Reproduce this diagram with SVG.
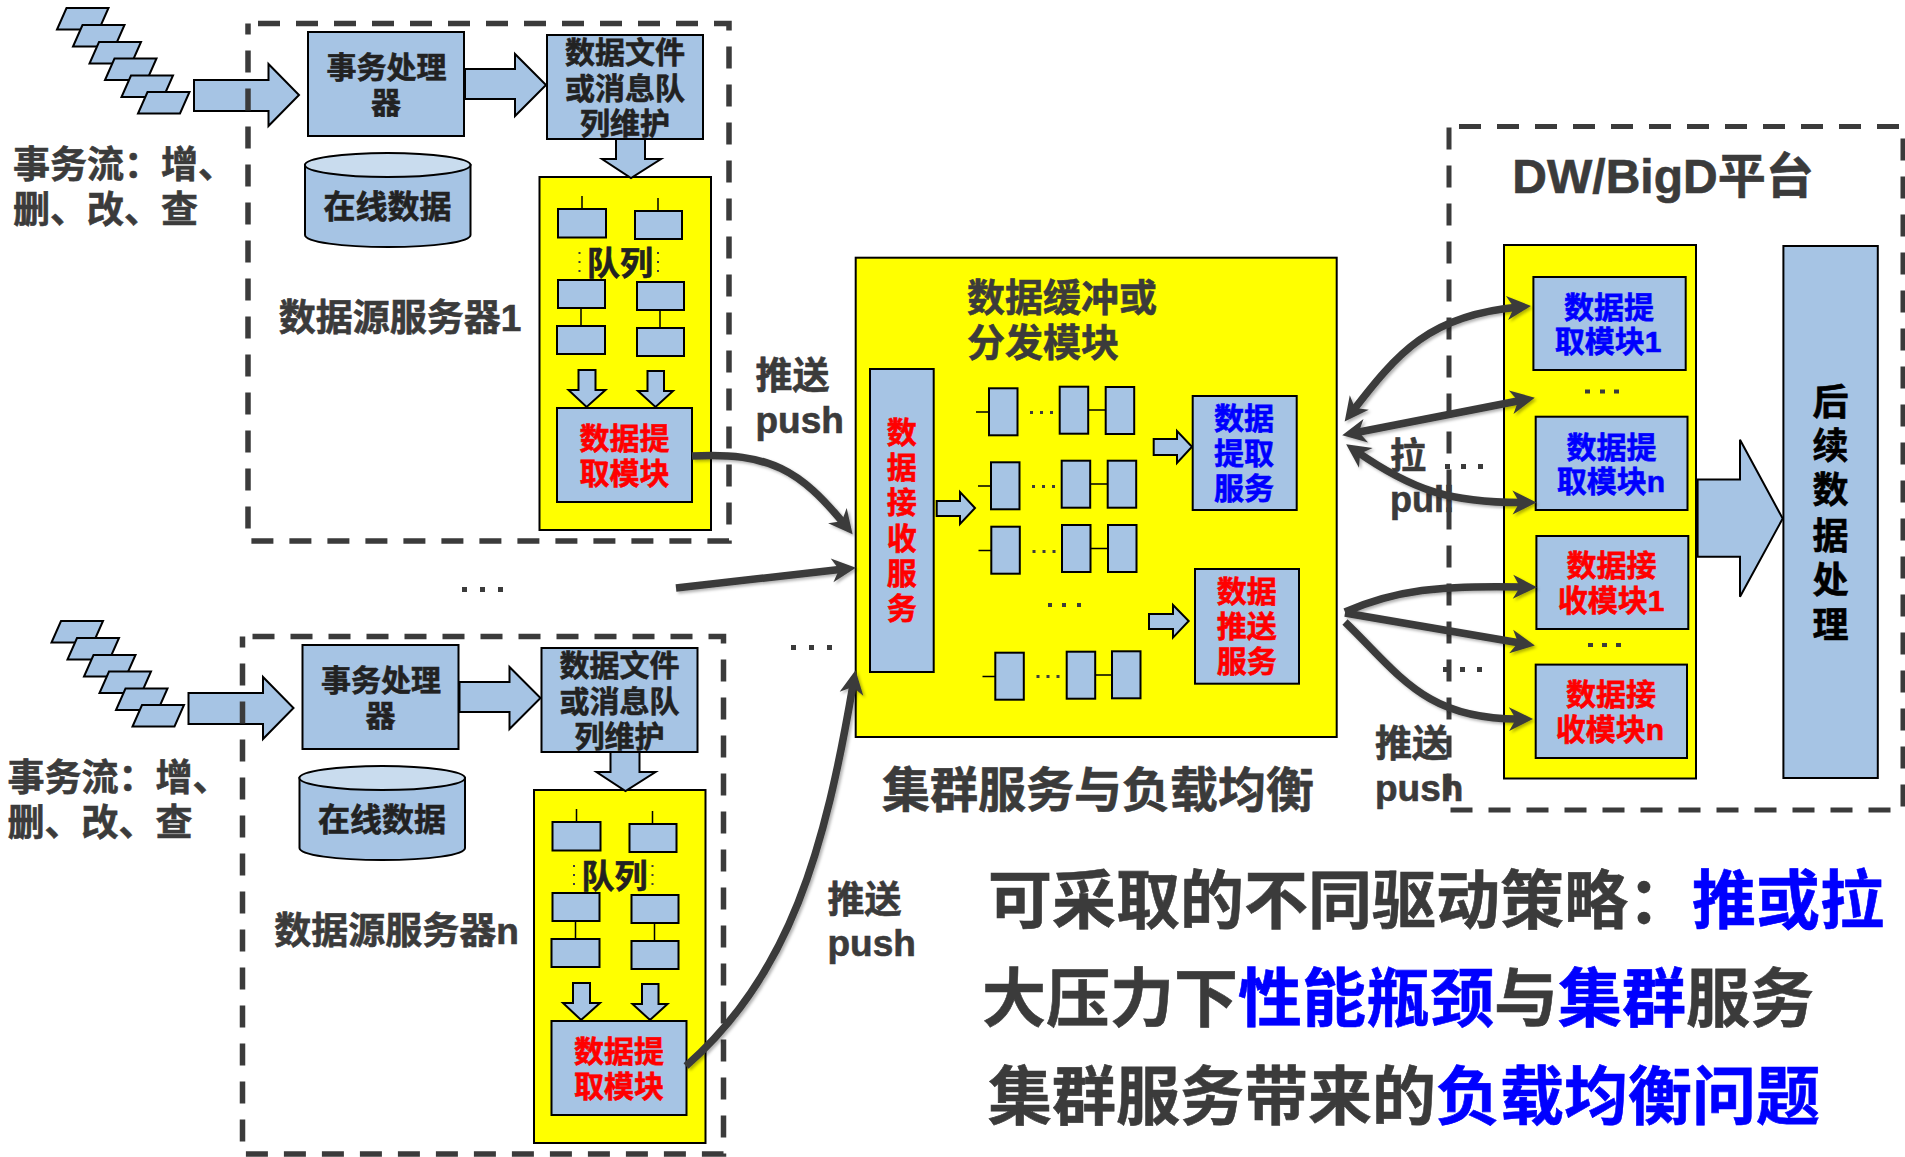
<svg xmlns="http://www.w3.org/2000/svg" width="1905" height="1157" viewBox="0 0 1905 1157">
<style>
text{font-family:"Liberation Sans","Noto Sans CJK SC",sans-serif;font-weight:700;text-anchor:middle;fill:#3b3b3b;stroke:#3b3b3b;stroke-width:.6}
.s{text-anchor:start}
.k{fill:#000;stroke:#000}.r{fill:#f00;stroke:#f00}.b{fill:#00f;stroke:#00f}.d{fill:#222;stroke:#222}
.f30{font-size:30px}.f32{font-size:32px}.f33{font-size:33px}.f36{font-size:36px}.f37{font-size:37px}.f38{font-size:38px}.f48{font-size:48px}.f64{font-size:64px}
.n,.a{fill:#a6c4e4;stroke:#000;stroke-width:2}
.a{stroke-width:2}
.y{fill:#ff0;stroke:#000;stroke-width:2}
.top{fill:#c9dcee;stroke:#000;stroke-width:2}
.w{fill:none;stroke:#000;stroke-width:1.5}
.frame{fill:none;stroke:#3b3b3b;stroke-width:5.5;stroke-dasharray:22 16}
.c{fill:none;stroke:#3b3b3b;stroke-width:7.5}
.dg{fill:#3b3b3b}
</style>
<defs>
<marker id="h" markerUnits="userSpaceOnUse" markerWidth="26" markerHeight="26" viewBox="0 0 26 26" refX="13" refY="13" orient="auto-start-reverse">
<path d="M25 13L1 1L8 13L1 25Z" fill="#3b3b3b"/>
</marker>
<filter id="sh" x="-10%" y="-10%" width="120%" height="120%"><feDropShadow dx="2" dy="2" stdDeviation="1.5" flood-color="#000" flood-opacity=".3"/></filter>
<g id="para"><path class="n" d="M9.5 0H51.5L42 21.500H0Z"/></g>
<g id="q2"><rect class="n" x="0" y="0" width="28.500" height="47"/></g>
</defs>

<g id="server-1">
<g id="stream-1"><use href="#para" x="57" y="8"/><use href="#para" x="73" y="25"/><use href="#para" x="89.500" y="42"/><use href="#para" x="105" y="58.500"/><use href="#para" x="121.500" y="75.500"/><use href="#para" x="138" y="92"/></g>
<g id="stream-arrow-1"><path class="a" d="M194 80H268.500V64L299 95L268.500 126V111H194Z"/></g>
<g id="frame-1"><path class="frame" d="M258 23.600H729V541H248V23.600"/></g>
<g id="proc-1"><rect class="n" x="308" y="32" width="156" height="104"/><text class="f30 d" x="386.500" y="78">事务处理</text><text class="f30 d" x="386" y="113">器</text></g>
<g id="arrow-proc-file-1"><path class="a" d="M465 69H515V54L546 85L515 116V99H465Z"/></g>
<g id="file-1"><rect class="n" x="547" y="35" width="156" height="104"/><text class="f30 d" x="625" y="63">数据文件</text><text class="f30 d" x="625" y="99">或消息队</text><text class="f30 d" x="625" y="134">列维护</text></g>
<g id="yellow-1"><rect class="y" x="539.500" y="177" width="171.500" height="353"/></g>
<g id="arrow-file-queue-1"><path class="a" d="M616 139H645V159H661L631 178L602 159H616Z"/></g>
<g id="db-1"><path class="n" d="M305 165V235C305 242 342 247 388 247S470.500 242 470.500 235V165Z"/><ellipse class="top" cx="387.700" cy="165" rx="82.800" ry="12"/><text class="f32 d" x="387.500" y="218">在线数据</text></g>
<text id="label-server-1" class="f37" x="400" y="331">数据源服务器1</text>
<g id="queues-1">
<path class="w" d="M582 196V209M658 198V211M581 308V326M660 310V328"/>
<rect class="n" x="558" y="209" width="48" height="28.500"/><rect class="n" x="635" y="211" width="47" height="28"/>
<rect class="n" x="558" y="280" width="47" height="28"/><rect class="n" x="637" y="282" width="47" height="28"/>
<rect class="n" x="557" y="326" width="48" height="28"/><rect class="n" x="637" y="328" width="47" height="28"/>
<text class="f33 d" x="620" y="275">队列</text>
<path class="dg" d="M578.500 252h2v2h-2zM578.500 261h2v2h-2zM578.500 270h2v2h-2zM657 252h2v2h-2zM657 261h2v2h-2zM657 270h2v2h-2z"/>
</g>
<g id="arrows-queue-1"><path class="a" d="M578.500 370H595.500V390H605.500L586.600 407L568.500 390H578.500Z"/><path class="a" d="M647.500 371H664V391H673L655.500 407L638 391H647.500Z"/></g>
<g id="extract-1"><rect class="n" x="557" y="408" width="135" height="94"/><text class="f30 r" x="624.500" y="449">数据提</text><text class="f30 r" x="624.500" y="484">取模块</text></g>
<text id="label-stream-1a" class="f37 s" x="13" y="178">事务流：增、</text>
<text id="label-stream-1b" class="f37 s" x="13" y="223">删、改、查</text>
</g>

<g id="server-n" transform="translate(-5.500 613)">
<g id="stream-n"><use href="#para" x="57" y="8"/><use href="#para" x="73" y="25"/><use href="#para" x="89.500" y="42"/><use href="#para" x="105" y="58.500"/><use href="#para" x="121.500" y="75.500"/><use href="#para" x="138" y="92"/></g>
<g id="stream-arrow-n"><path class="a" d="M194 80H268.500V64L299 95L268.500 126V111H194Z"/></g>
<g id="frame-n"><path class="frame" d="M258 23.600H729V541H248V23.600"/></g>
<g id="proc-n"><rect class="n" x="308" y="32" width="156" height="104"/><text class="f30 d" x="386.500" y="78">事务处理</text><text class="f30 d" x="386" y="113">器</text></g>
<g id="arrow-proc-file-n"><path class="a" d="M465 69H515V54L546 85L515 116V99H465Z"/></g>
<g id="file-n"><rect class="n" x="547" y="35" width="156" height="104"/><text class="f30 d" x="625" y="63">数据文件</text><text class="f30 d" x="625" y="99">或消息队</text><text class="f30 d" x="625" y="134">列维护</text></g>
<g id="yellow-n"><rect class="y" x="539.500" y="177" width="171.500" height="353"/></g>
<g id="arrow-file-queue-n"><path class="a" d="M616 139H645V159H661L631 178L602 159H616Z"/></g>
<g id="db-n"><path class="n" d="M305 165V235C305 242 342 247 388 247S470.500 242 470.500 235V165Z"/><ellipse class="top" cx="387.700" cy="165" rx="82.800" ry="12"/><text class="f32 d" x="387.500" y="218">在线数据</text></g>
<text id="label-server-n" class="f37" x="402" y="331">数据源服务器n</text>
<g id="queues-n">
<path class="w" d="M582 196V209M658 198V211M581 308V326M660 310V328"/>
<rect class="n" x="558" y="209" width="48" height="28.500"/><rect class="n" x="635" y="211" width="47" height="28"/>
<rect class="n" x="558" y="280" width="47" height="28"/><rect class="n" x="637" y="282" width="47" height="28"/>
<rect class="n" x="557" y="326" width="48" height="28"/><rect class="n" x="637" y="328" width="47" height="28"/>
<text class="f33 d" x="620" y="275">队列</text>
<path class="dg" d="M578.500 252h2v2h-2zM578.500 261h2v2h-2zM578.500 270h2v2h-2zM657 252h2v2h-2zM657 261h2v2h-2zM657 270h2v2h-2z"/>
</g>
<g id="arrows-queue-n"><path class="a" d="M578.500 370H595.500V390H605.500L586.600 407L568.500 390H578.500Z"/><path class="a" d="M647.500 371H664V391H673L655.500 407L638 391H647.500Z"/></g>
<g id="extract-n"><rect class="n" x="557" y="408" width="135" height="94"/><text class="f30 r" x="624.500" y="449">数据提</text><text class="f30 r" x="624.500" y="484">取模块</text></g>
<text id="label-stream-na" class="f37 s" x="13" y="178">事务流：增、</text>
<text id="label-stream-nb" class="f37 s" x="13" y="223">删、改、查</text>
</g>

<g id="dots-left" class="dg"><rect x="462" y="587" width="5" height="5"/><rect x="480" y="587" width="5" height="5"/><rect x="498" y="587" width="5" height="5"/><rect x="791" y="645" width="5" height="5"/><rect x="809" y="645" width="5" height="5"/><rect x="827" y="645" width="5" height="5"/></g>
<g id="label-push-1"><text class="f37 s" x="755.500" y="389">推送</text><text class="f37 s" x="755.500" y="433">push</text></g>
<g id="label-push-n"><text class="f37 s" x="827.500" y="913">推送</text><text class="f37 s" x="827.500" y="956">push</text></g>

<g id="buffer">
<rect class="y" x="855.700" y="257.700" width="481" height="479.300"/>
<text class="f38 s" x="967" y="311">数据缓冲或</text><text class="f38 s" x="967" y="356">分发模块</text>
</g>
<g id="receive-service"><rect class="n" x="870" y="369" width="63.700" height="303"/><text class="f30 r" x="901.700" y="443">数</text><text class="f30 r" x="901.700" y="478">据</text><text class="f30 r" x="901.700" y="513">接</text><text class="f30 r" x="901.700" y="549">收</text><text class="f30 r" x="901.700" y="584">服</text><text class="f30 r" x="901.700" y="619">务</text></g>
<g id="arrow-receive-queues"><path class="a" d="M936.700 501H960V492L975 508L960 524V516H936.700Z"/></g>
<g id="buffer-queues">
<path class="w" d="M976 412H989M1088 410H1106M978 486H991M1090 484H1108M978.500 550.500H991.500M1090.500 548.500H1108.500M982.500 676.500H995.500M1094.500 675H1112.500"/>
<use href="#q2" x="989" y="388.300"/><use href="#q2" x="1059.700" y="386.700"/><use href="#q2" x="1105.700" y="387"/>
<use href="#q2" x="991" y="462.300"/><use href="#q2" x="1061.700" y="460.700"/><use href="#q2" x="1107.700" y="460.700"/>
<use href="#q2" x="991.300" y="526.700"/><use href="#q2" x="1062" y="525"/><use href="#q2" x="1108" y="525"/>
<use href="#q2" x="995.300" y="652.700"/><use href="#q2" x="1066.700" y="651.700"/><use href="#q2" x="1112" y="651.300"/>
<path class="dg" d="M1030 411h3v3h-3zM1040 411h3v3h-3zM1050 411h3v3h-3zM1032 485h3v3h-3zM1042 485h3v3h-3zM1052 485h3v3h-3zM1032.500 550h3v3h-3zM1042.500 550h3v3h-3zM1052.500 550h3v3h-3zM1036.500 675h3v3h-3zM1046.500 675h3v3h-3zM1056.500 675h3v3h-3z"/>
<path class="dg" d="M1048 603h4v4h-4zM1062 603h4v4h-4zM1077 603h4v4h-4z"/>
</g>
<g id="arrows-to-services"><path class="a" d="M1153.700 439H1177V431L1192 446.700L1177 463V455H1153.700Z"/><path class="a" d="M1149 614H1173V605L1188.700 621L1173 637.600V629H1149Z"/></g>
<g id="extract-service"><rect class="n" x="1192.700" y="396" width="104" height="114"/><text class="f30 b" x="1244" y="429">数据</text><text class="f30 b" x="1244" y="464">提取</text><text class="f30 b" x="1244" y="499">服务</text></g>
<g id="push-service"><rect class="n" x="1195" y="569" width="104" height="114.700"/><text class="f30 r" x="1246.700" y="602">数据</text><text class="f30 r" x="1246.700" y="637">推送</text><text class="f30 r" x="1246.700" y="672">服务</text></g>
<text id="label-cluster" class="f48" x="1098" y="807">集群服务与负载均衡</text>

<text id="label-pull-a" class="f36 s" x="1390" y="469">拉</text>
<text id="label-pull-b" class="f36 s" x="1390" y="512">pull</text>
<g id="dots-mid" class="dg"><rect x="1445" y="464" width="5" height="5"/><rect x="1461" y="464" width="5" height="5"/><rect x="1478" y="464" width="5" height="5"/><rect x="1443" y="667" width="5" height="5"/><rect x="1460" y="667" width="5" height="5"/><rect x="1477" y="667" width="5" height="5"/></g>
<text id="label-push-2a" class="f37 s" x="1375" y="757">推送</text>
<text id="label-push-2b" class="f37 s" x="1375" y="801">push</text>

<g id="frame-platform"><path class="frame" style="stroke-width:5" d="M1459 126.500H1903V810H1449V126.500"/></g>
<text id="label-platform" class="f48" x="1663" y="193">DW/BigD平台</text>
<g id="platform-yellow"><rect class="y" x="1504" y="245" width="192" height="533.500"/></g>
<g id="pull-1"><rect class="n" x="1533.400" y="277" width="152.300" height="93"/><text class="f30 b" x="1609" y="318">数据提</text><text class="f30 b" x="1608" y="352">取模块1</text></g>
<g id="pull-n"><rect class="n" x="1535.700" y="416.700" width="151.800" height="93.300"/><text class="f30 b" x="1611.500" y="458">数据提</text><text class="f30 b" x="1611" y="492">取模块n</text></g>
<g id="recv-1"><rect class="n" x="1536.400" y="536" width="151.900" height="93"/><text class="f30 r" x="1611.500" y="576">数据接</text><text class="f30 r" x="1611" y="611">收模块1</text></g>
<g id="recv-n"><rect class="n" x="1535.700" y="664.600" width="151.300" height="93.400"/><text class="f30 r" x="1611" y="705">数据接</text><text class="f30 r" x="1610" y="740">收模块n</text></g>
<g id="dots-platform" class="dg"><rect x="1585" y="389.500" width="5" height="4"/><rect x="1600" y="389.500" width="5" height="4"/><rect x="1614" y="389.500" width="5" height="4"/><rect x="1588" y="643" width="5" height="4"/><rect x="1602" y="643" width="5" height="4"/><rect x="1616" y="643" width="5" height="4"/></g>
<g id="arrow-to-post"><path class="a" d="M1697.600 479.600H1740V439.700L1782.700 518.600L1740 596.700V556.700H1697.600Z"/></g>
<g id="post-process"><rect class="n" x="1783.400" y="246" width="94.400" height="532"/><text class="f36 k" x="1830.400" y="415">后</text><text class="f36 k" x="1830.400" y="459">续</text><text class="f36 k" x="1830.400" y="503">数</text><text class="f36 k" x="1830.400" y="549">据</text><text class="f36 k" x="1830.400" y="593">处</text><text class="f36 k" x="1830.400" y="638">理</text></g>

<g id="connectors" filter="url(#sh)">
<path class="c" marker-end="url(#h)" d="M692 456C770 452 800 470 845 525"/>
<path class="c" marker-end="url(#h)" d="M676 588L844 569"/>
<path class="c" marker-end="url(#h)" d="M686 1066C790 975 825 850 853.500 682"/>
<path class="c" marker-start="url(#h)" marker-end="url(#h)" d="M1352 412C1398 352 1430 315 1519 307"/>
<path class="c" marker-start="url(#h)" marker-end="url(#h)" d="M1354 433L1523 400"/>
<path class="c" marker-start="url(#h)" marker-end="url(#h)" d="M1356 451C1412 490 1450 503 1524.500 502.500"/>
<path class="c" marker-end="url(#h)" d="M1345 612C1395 590 1440 585 1525 587"/>
<path class="c" marker-end="url(#h)" d="M1345 613L1523 643.500"/>
<path class="c" marker-end="url(#h)" d="M1345 622C1400 675 1425 720 1521 719"/>
</g>

<g id="summary">
<text class="f64 s" x="988" y="923">可采取的不同驱动策略：<tspan class="b">推或拉</tspan></text>
<text class="f64 s" x="982" y="1021">大压力下<tspan class="b">性能瓶颈</tspan>与<tspan class="b">集群</tspan>服务</text>
<text class="f64 s" x="988" y="1119">集群服务带来的<tspan class="b">负载均衡问题</tspan></text>
</g>
</svg>
